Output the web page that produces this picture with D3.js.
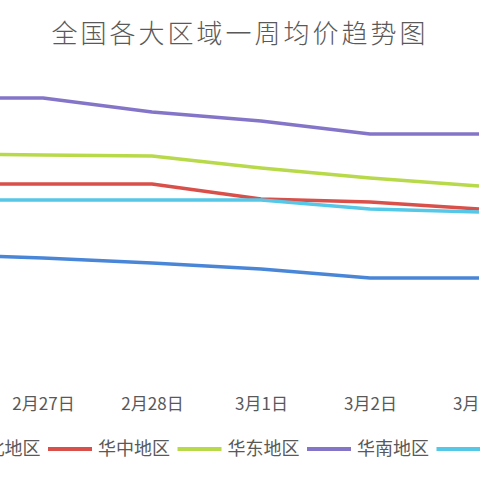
<!DOCTYPE html>
<html>
<head>
<meta charset="utf-8">
<script src="https://cdn.jsdelivr.net/npm/d3@7"></script>
<style>
  html, body { margin: 0; padding: 0; background: #fff; overflow: hidden; }
  svg { display: block; font-family: "Noto Sans CJK SC", "Noto Sans", sans-serif; }
</style>
</head>
<body>
<div id="chart"></div>
<script>
// Data
const dates = ["2月26日", "2月27日", "2月28日", "3月1日", "3月2日", "3月3日"];
const regions = ["华北地区", "华中地区", "华东地区", "华南地区", "西南地区"];
const colors = ["#4a86d8", "#d9504a", "#b8d94a", "#8575c8", "#55c8e8"];
const huabei = [22.6, 22.2, 21.7, 21.1, 20.2, 20.2];
const huazhong = [29.6, 29.6, 29.6, 28.1, 27.8, 27.1];
const huadong = [32.6, 32.5, 32.4, 31.2, 30.2, 29.4];
const huanan = [38.2, 38.2, 36.8, 35.9, 34.6, 34.6];
const xinan = [28.0, 28.0, 28.0, 28.0, 27.1, 26.8];
const seriesValues = [huabei, huazhong, huadong, huanan, xinan];

const width = 480, height = 480;

const svg = d3.select("#chart").append("svg")
  .attr("width", width)
  .attr("height", height);

// title
svg.append("text")
  .attr("x", 240)
  .attr("y", 43)
  .attr("text-anchor", "middle")
  .attr("font-size", 26)
  .attr("font-weight", 300)
  .attr("letter-spacing", 3)
  .attr("fill", "#595959")
  .text("全国各大区域一周均价趋势图");

// the plot runs past both sides of the window
let x = d3.scalePoint()
  .domain(dates)
  .range([-66, 479]);
let y = d3.scaleLinear()
  .domain([10, 40])
  .range([380, 80]);

let axis = d3.axisBottom(x).tickSize(0).tickPadding(0);
let gx = svg.append("g")
  .attr("transform", "translate(0,398)")
  .call(axis);
gx.select(".domain").remove();
gx.selectAll("text")
  .attr("font-size", 17)
  .attr("font-family", "\"Noto Sans CJK SC\", sans-serif")
  .attr("fill", "#595959");

let line = d3.line()
  .x((d, i) => x(dates[i]))
  .y((d) => y(d));

svg.selectAll(".series")
  .data(seriesValues)
  .enter().append("path")
  .attr("class", "series")
  .attr("d", line)
  .attr("fill", "none")
  .attr("stroke", (d, i) => colors[i])
  .attr("stroke-width", 3.5)
  .attr("stroke-linejoin", "round");

// legend, centred under the plot (first and last item are cut off)
let legend = svg.selectAll(".legend")
  .data(regions)
  .enter().append("g")
  .attr("class", "legend")
  .attr("transform", (d, i) => "translate(" + (-81.5 + i * 129.5) + ",449)");
legend.append("line")
  .attr("x1", 0)
  .attr("x2", 44)
  .attr("stroke", (d, i) => colors[i])
  .attr("stroke-width", 4);
legend.append("text")
  .attr("x", 50)
  .attr("dy", "0.36em")
  .attr("font-size", 18)
  .attr("fill", "#595959")
  .text((d) => d);
</script>
</body>
</html>
